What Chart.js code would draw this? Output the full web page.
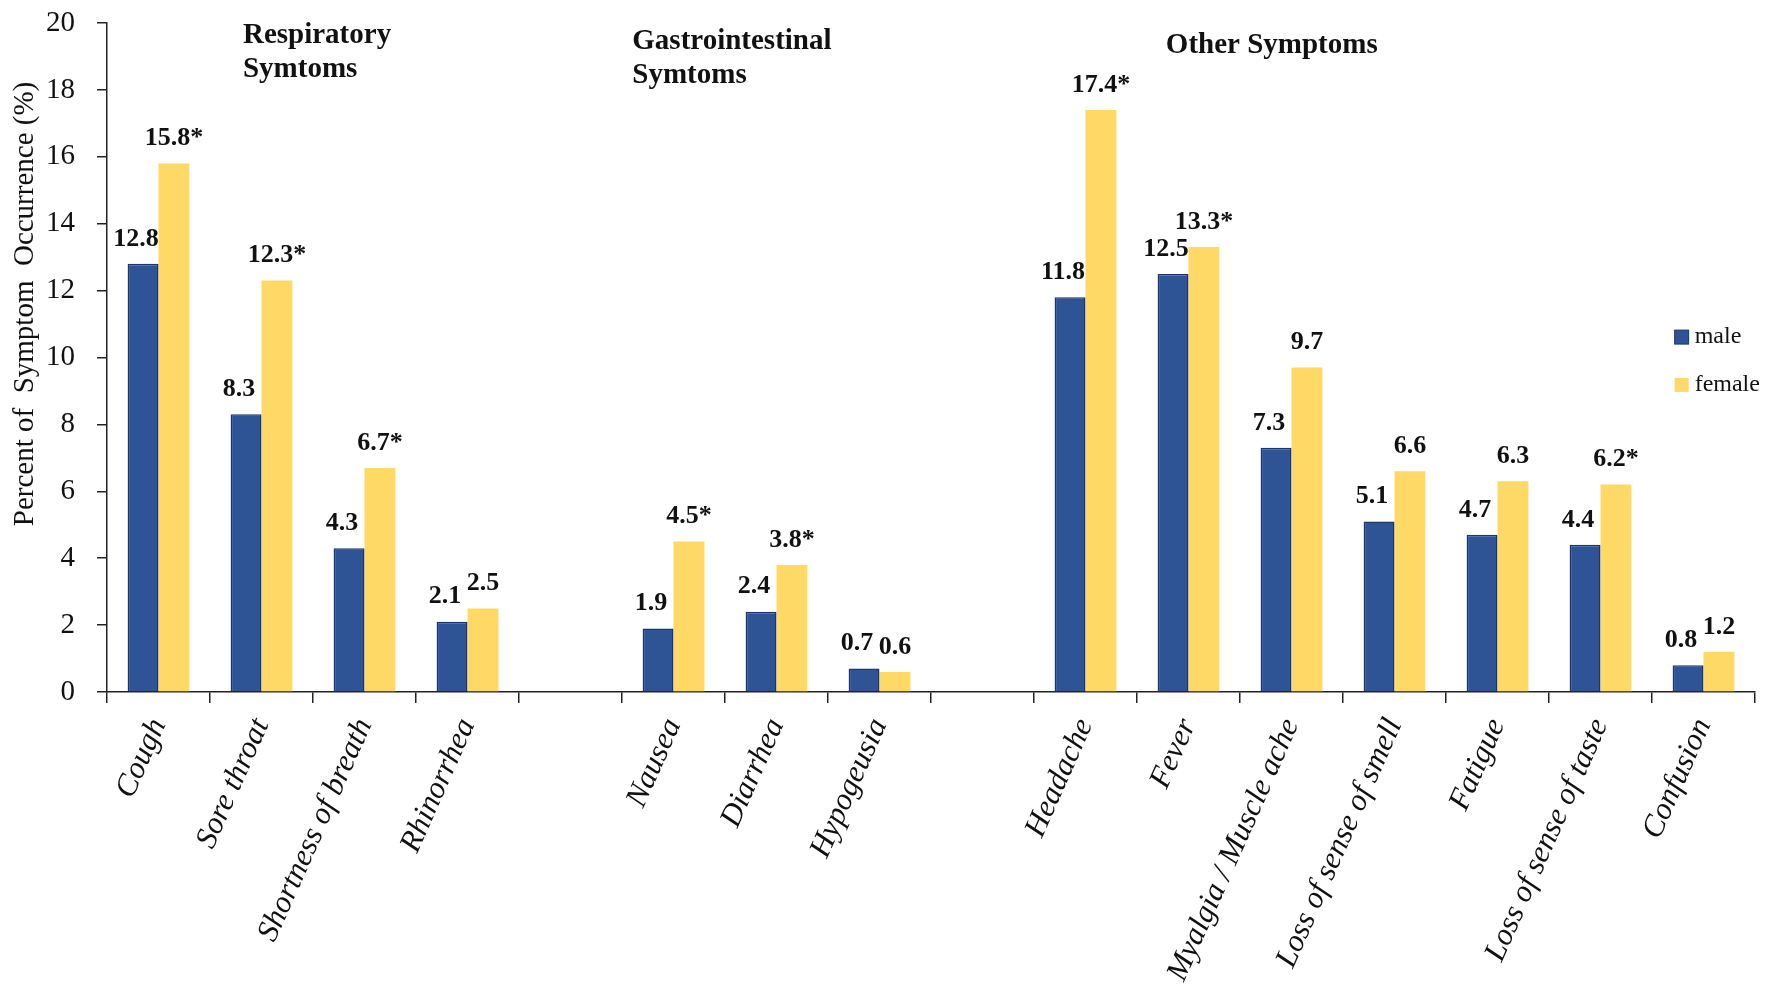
<!DOCTYPE html>
<html>
<head>
<meta charset="utf-8">
<script src="https://cdn.jsdelivr.net/npm/chart.js@4.4.1/dist/chart.umd.min.js"></script>
<style>
  html, body { margin: 0; padding: 0; background: #fff; }
  #wrap { width: 1772px; height: 998px; position: relative; }
</style>
</head>
<body>
<div id="wrap"><canvas id="symptomChart"></canvas></div>
<script>
// categories (empty strings are the gaps between symptom groups)
const symptoms = [
  'Cough', 'Sore throat', 'Shortness of breath', 'Rhinorrhea', '',
  'Nausea', 'Diarrhea', 'Hypogeusia', '',
  'Headache', 'Fever', 'Myalgia / Muscle ache', 'Loss of sense of smell',
  'Fatigue', 'Loss of sense of taste', 'Confusion'
];

const maleValues   = [12.8, 8.3, 4.3, 2.1, null, 1.9, 2.4, 0.7, null, 11.8, 12.5, 7.3, 5.1, 4.7, 4.4, 0.8];
const femaleValues = [15.8, 12.3, 6.7, 2.5, null, 4.5, 3.8, 0.6, null, 17.4, 13.3, 9.7, 6.6, 6.3, 6.2, 1.2];

// significant difference marks (shown as "*")
const femaleSignificant = [true, true, true, false, false, true, true, false, false, true, true, false, false, false, true, false];

const yTicks = [0, 2, 4, 6, 8, 10, 12, 14, 16, 18, 20];

// group headings: text lines, category position, y value of first line
const groupTitles = [
  { lines: ['Respiratory', 'Symtoms'], at: 0.82, y: 19.62 },
  { lines: ['Gastrointestinal', 'Symtoms'], at: 4.6, y: 19.46 },
  { lines: ['Other Symptoms'], at: 9.78, y: 19.32 }
];

const serif = "'Liberation Serif', 'Times New Roman', serif";

const valueLabels = {
  id: 'valueLabels',
  afterDatasetsDraw(chart) {
    const ctx = chart.ctx;
    ctx.save();
    ctx.fillStyle = '#111';
    ctx.font = 'bold 26px ' + serif;
    ctx.textAlign = 'center';
    ctx.textBaseline = 'bottom';
    chart.data.datasets.forEach((ds, di) => {
      const meta = chart.getDatasetMeta(di);
      const shift = ds.labelShift || 0;
      meta.data.forEach((bar, i) => {
        const v = ds.data[i];
        if (v === null) return;
        let txt = v.toFixed(1);
        if (ds.marks && ds.marks[i]) txt += '*';
        ctx.fillText(txt, bar.x + shift, bar.y - 12);
      });
    });
    ctx.restore();
  }
};

const decorations = {
  id: 'decorations',
  afterDraw(chart) {
    const ctx = chart.ctx;
    const xs = chart.scales.x, ys = chart.scales.y;
    ctx.save();

    // group headings
    ctx.fillStyle = '#111';
    ctx.font = 'bold 29px ' + serif;
    ctx.textAlign = 'left';
    ctx.textBaseline = 'middle';
    groupTitles.forEach(g => {
      const x = xs.getPixelForValue(g.at);
      g.lines.forEach((line, k) => {
        ctx.fillText(line, x, ys.getPixelForValue(g.y) + k * 34);
      });
    });

    // y axis title
    ctx.font = '29px ' + serif;
    ctx.textAlign = 'center';
    ctx.translate(25, ys.getPixelForValue(11.6));
    ctx.rotate(-Math.PI / 2);
    ctx.fillText('Percent of  Symptom  Occurrence (%)', 0, 0);
    ctx.restore();

    // legend inside the plot, right side
    ctx.save();
    ctx.font = '24px ' + serif;
    ctx.textAlign = 'left';
    ctx.textBaseline = 'middle';
    const lx = xs.getPixelForValue(14.72);
    chart.data.datasets.forEach((ds, di) => {
      const cy = ys.getPixelForValue(10.61 - di * 1.43);
      ctx.fillStyle = ds.backgroundColor;
      ctx.fillRect(lx, cy - 7, 14, 14);
      if (ds.borderWidth) {
        ctx.strokeStyle = ds.borderColor;
        ctx.lineWidth = 1;
        ctx.strokeRect(lx, cy - 7, 14, 14);
      }
      ctx.fillStyle = '#111';
      ctx.fillText(ds.label, lx + 20, cy);
    });
    ctx.restore();
  }
};

new Chart(document.getElementById('symptomChart'), {
  type: 'bar',
  data: {
    labels: symptoms,
    datasets: [
      {
        label: 'male',
        data: maleValues,
        labelShift: -7,
        backgroundColor: '#2F5496',
        borderColor: '#1B3570',
        borderWidth: 1.5,
        borderSkipped: 'bottom'
      },
      {
        label: 'female',
        data: femaleValues,
        marks: femaleSignificant,
        backgroundColor: '#FFD966',
        borderWidth: 0
      }
    ]
  },
  options: {
    responsive: true,
    maintainAspectRatio: false,
    animation: false,
    devicePixelRatio: 1,
    layout: { padding: { left: 0, top: 23, right: 17, bottom: 0 } },
    datasets: {
      bar: { categoryPercentage: 0.6, barPercentage: 1.0 }
    },
    plugins: {
      legend: { display: false },
      tooltip: { enabled: false },
      title: { display: false }
    },
    scales: {
      x: {
        grid: {
          offset: true,
          drawOnChartArea: false,
          drawTicks: true,
          tickLength: 11,
          color: '#222',
          lineWidth: 1.5
        },
        border: { color: '#222', width: 1.5 },
        ticks: {
          autoSkip: false,
          minRotation: 66,
          maxRotation: 66,
          padding: 10,
          color: '#111',
          font: { family: serif, size: 31, style: 'italic' }
        },
        afterFit(scale) {
          scale.height = 306;
          scale.paddingLeft = 0;
          scale.paddingRight = 0;
        }
      },
      y: {
        min: 0,
        max: 20,
        afterBuildTicks(scale) { scale.ticks = yTicks.map(v => ({ value: v })); },
        grid: {
          drawOnChartArea: false,
          drawTicks: true,
          tickLength: 10,
          color: '#222',
          lineWidth: 1.5
        },
        border: { color: '#222', width: 1.5 },
        ticks: {
          padding: 22,
          color: '#111',
          font: { family: serif, size: 29 }
        },
        afterFit(scale) {
          scale.width = 107;
          scale.paddingTop = 0;
          scale.paddingBottom = 0;
        }
      }
    }
  },
  plugins: [valueLabels, decorations]
});
</script>
</body>
</html>
